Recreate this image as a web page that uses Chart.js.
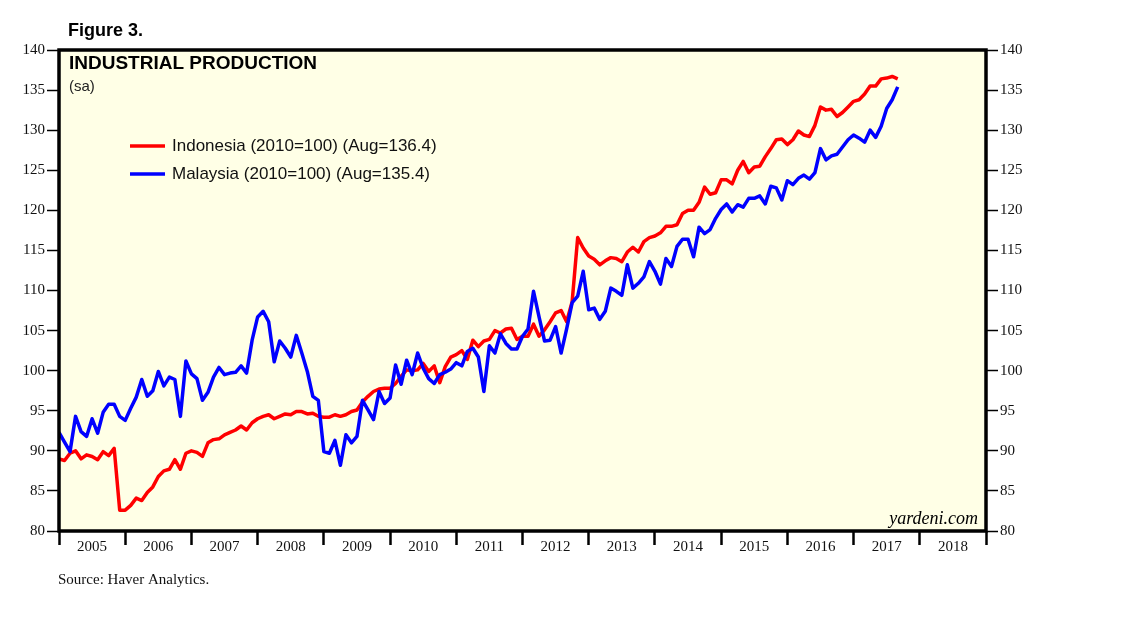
<!DOCTYPE html>
<html>
<head>
<meta charset="utf-8">
<script src="https://cdn.jsdelivr.net/npm/chart.js@4/dist/chart.umd.min.js"></script>
<style>
  html, body { margin: 0; padding: 0; background: #fff; }
  canvas { display: block; }
</style>
</head>
<body>
<canvas id="chart" width="1138" height="621"></canvas>
<script>
// monthly readings, first point sits on the 2005 boundary
const START_YEAR = 2005;
const years = [2005, 2006, 2007, 2008, 2009, 2010, 2011, 2012, 2013, 2014, 2015, 2016, 2017, 2018];
const yTicks = [80, 85, 90, 95, 100, 105, 110, 115, 120, 125, 130, 135, 140];
const seriesNames = ["Indonesia (2010=100) (Aug=136.4)", "Malaysia (2010=100) (Aug=135.4)"];

const indonesia = [
  89.0, 88.8, 89.7, 90.0, 89.0, 89.5, 89.3, 88.9, 89.9, 89.4, 90.3, 82.6,
  82.6, 83.2, 84.1, 83.8, 84.8, 85.5, 86.8, 87.5, 87.7, 88.9, 87.7, 89.7,
  90.0, 89.8, 89.3, 91.0, 91.4, 91.5, 92.0, 92.3, 92.6, 93.1, 92.6, 93.5,
  94.0, 94.3, 94.5, 94.0, 94.3, 94.6, 94.5, 94.9, 94.9, 94.6, 94.7, 94.3,
  94.2, 94.2, 94.5, 94.3, 94.5, 94.9, 95.1, 96.1, 96.8, 97.4, 97.7, 97.8,
  97.8, 98.4, 99.3, 100.1, 100.0, 100.1, 100.9, 99.9, 100.6, 98.5, 100.5, 101.7,
  102.0, 102.5, 101.4, 103.8, 103.0, 103.7, 103.9, 105.0, 104.7, 105.2, 105.3, 103.9,
  104.3, 104.3, 105.8, 104.3, 105.1, 106.1, 107.2, 107.5, 106.1, 108.6, 116.6, 115.3,
  114.3, 113.9, 113.2, 113.7, 114.1, 114.0, 113.6, 114.8, 115.4, 114.8, 116.1, 116.6,
  116.8, 117.2, 118.0, 118.0, 118.2, 119.6, 120.0, 120.0, 121.0, 122.9, 122.0, 122.2,
  123.8, 123.8, 123.3, 125.0, 126.1, 124.7, 125.4, 125.5, 126.7, 127.7, 128.8, 128.9,
  128.2, 128.8, 129.9, 129.4, 129.2, 130.6, 132.9, 132.5, 132.6, 131.7, 132.2, 132.9,
  133.6, 133.8, 134.5, 135.5, 135.5, 136.4, 136.5, 136.7, 136.4
];

const malaysia = [
  92.3, 91.1, 89.9, 94.3, 92.4, 91.8, 94.0, 92.2, 94.8, 95.8, 95.8, 94.3,
  93.8, 95.3, 96.7, 98.9, 96.8, 97.5, 99.9, 98.1, 99.2, 98.9, 94.3, 101.2,
  99.6, 99.0, 96.3, 97.3, 99.2, 100.4, 99.5, 99.7, 99.8, 100.6, 99.7, 103.8,
  106.7, 107.4, 106.1, 101.1, 103.7, 102.8, 101.7, 104.4, 102.2, 99.9, 96.8, 96.3,
  89.9, 89.7, 91.3, 88.2, 92.0, 91.0, 91.8, 96.3, 95.1, 93.9, 97.4, 95.9,
  96.6, 100.7, 98.3, 101.3, 99.5, 102.2, 100.3, 99.0, 98.4, 99.5, 99.8, 100.2,
  101.0, 100.6, 102.4, 102.8, 101.7, 97.4, 103.1, 102.2, 104.6, 103.4, 102.7, 102.7,
  104.3, 105.2, 109.9, 106.7, 103.7, 103.8, 105.5, 102.2, 105.2, 108.5, 109.3, 112.4,
  107.6, 107.8, 106.4, 107.4, 110.3, 109.9, 109.4, 113.2, 110.3, 110.9, 111.7, 113.6,
  112.4, 110.8, 114.0, 113.0, 115.5, 116.4, 116.4, 114.2, 117.9, 117.1, 117.6, 119.0,
  120.1, 120.8, 119.8, 120.7, 120.4, 121.5, 121.5, 121.8, 120.8, 123.0, 122.8, 121.3,
  123.7, 123.2, 124.0, 124.4, 123.9, 124.7, 127.7, 126.3, 126.8, 127.0, 127.9, 128.8,
  129.4, 129.0, 128.5, 130.0, 129.1, 130.5, 132.7, 133.8, 135.4
];

const RED = "#ff0000";
const BLUE = "#0000ff";
const SERIF = "'Liberation Serif', 'DejaVu Serif', serif";
const SANS = "'Liberation Sans', Arial, sans-serif";

function toPoints(values) {
  return values.map((v, i) => ({ x: START_YEAR + i / 12, y: v }));
}

// year boundaries get tick marks, half years carry the labels
function buildYearTicks(scale) {
  const ticks = [];
  years.forEach(y => {
    ticks.push({ value: y });
    ticks.push({ value: y + 0.5 });
  });
  ticks.push({ value: years[years.length - 1] + 1 });
  scale.ticks = ticks;
}

function valueAxis(position, width) {
  return {
    type: "linear",
    position,
    min: yTicks[0],
    max: yTicks[yTicks.length - 1],
    afterBuildTicks: scale => { scale.ticks = yTicks.map(v => ({ value: v })); },
    afterFit: scale => { scale.width = width; },
    ticks: {
      font: { family: SERIF, size: 15 },
      color: "#111",
      padding: 2
    },
    grid: {
      drawOnChartArea: false,
      tickLength: 12,
      tickWidth: 1.5,
      tickColor: "#000"
    },
    border: { display: false }
  };
}

const framePlugin = {
  id: "frame",
  beforeDatasetsDraw(chart) {
    const { ctx, chartArea: a } = chart;
    ctx.save();
    ctx.fillStyle = "#ffffe6";
    ctx.fillRect(a.left, a.top, a.right - a.left, a.bottom - a.top);
    ctx.restore();
  },
  afterDatasetsDraw(chart) {
    const { ctx, chartArea: a } = chart;
    ctx.save();
    ctx.strokeStyle = "#000";
    ctx.lineWidth = 3.5;
    ctx.strokeRect(a.left, a.top, a.right - a.left, a.bottom - a.top);
    ctx.restore();
  },
  afterDraw(chart) {
    const { ctx, chartArea: a } = chart;
    ctx.save();
    ctx.fillStyle = "#000";
    ctx.textBaseline = "middle";

    ctx.font = "bold 18px " + SANS;
    ctx.fillText("Figure 3.", 68, 31);

    ctx.font = "bold 19px " + SANS;
    ctx.fillText("INDUSTRIAL PRODUCTION", 69, 64);

    ctx.font = "15px " + SANS;
    ctx.fillStyle = "#222";
    ctx.fillText("(sa)", 69, 87);

    // legend
    const colors = [RED, BLUE];
    ctx.font = "17px " + SANS;
    seriesNames.forEach((name, i) => {
      const y = 146 + i * 28;
      ctx.strokeStyle = colors[i];
      ctx.lineWidth = 3.5;
      ctx.beginPath();
      ctx.moveTo(130, y);
      ctx.lineTo(165, y);
      ctx.stroke();
      ctx.fillStyle = "#111";
      ctx.fillText(name, 172, y);
    });

    ctx.font = "italic 18px " + SERIF;
    ctx.textAlign = "right";
    ctx.textBaseline = "alphabetic";
    ctx.fillStyle = "#000";
    ctx.fillText("yardeni.com", a.right - 8, 524);

    ctx.textAlign = "left";
    ctx.font = "15px " + SERIF;
    ctx.fillStyle = "#111";
    ctx.fillText("Source: Haver Analytics.", 58, 584);
    ctx.restore();
  }
};

new Chart(document.getElementById("chart"), {
  type: "line",
  data: {
    datasets: [
      {
        label: seriesNames[0],
        data: toPoints(indonesia),
        borderColor: RED,
        borderWidth: 3.5,
        pointRadius: 0,
        tension: 0,
        borderJoinStyle: "round",
        order: 1
      },
      {
        label: seriesNames[1],
        data: toPoints(malaysia),
        borderColor: BLUE,
        borderWidth: 3.5,
        pointRadius: 0,
        tension: 0,
        borderJoinStyle: "round",
        order: 0
      }
    ]
  },
  options: {
    responsive: false,
    animation: false,
    layout: { padding: { top: 50, left: 0, right: 0, bottom: 0 } },
    plugins: {
      legend: { display: false },
      tooltip: { enabled: false }
    },
    scales: {
      x: {
        type: "linear",
        min: years[0],
        max: years[years.length - 1] + 1,
        afterBuildTicks: buildYearTicks,
        afterFit: scale => { scale.height = 90; },
        ticks: {
          autoSkip: false,
          maxRotation: 0,
          padding: -7,
          font: { family: SERIF, size: 15 },
          color: "#111",
          callback: v => (v % 1 ? String(Math.floor(v)) : "")
        },
        grid: {
          drawOnChartArea: false,
          tickLength: 14,
          tickWidth: 2.5,
          tickColor: c => (c.tick && c.tick.value % 1 === 0 ? "#000" : "rgba(0,0,0,0)")
        },
        border: { display: false }
      },
      y: valueAxis("left", 59),
      y2: valueAxis("right", 1138 - 986)
    }
  },
  plugins: [framePlugin]
});
</script>
</body>
</html>
